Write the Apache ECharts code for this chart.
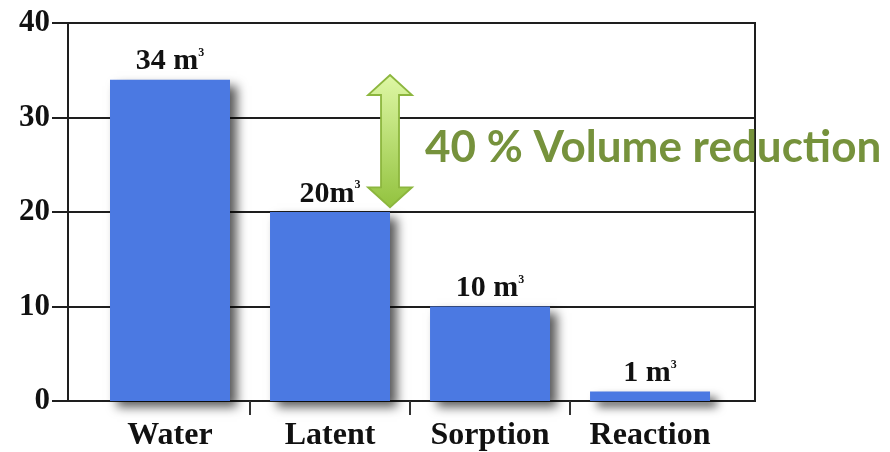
<!DOCTYPE html>
<html>
<head>
<meta charset="utf-8">
<script src="https://cdn.jsdelivr.net/npm/echarts@6/dist/echarts.min.js"></script>
<style>
  html, body { margin: 0; padding: 0; background: #fff; }
  #chart { width: 890px; height: 452px; }
</style>
</head>
<body>
<div id="chart"></div>
<script>
// data
var categories = ['Water', 'Latent', 'Sorption', 'Reaction']
var volumes = [34, 20, 10, 1]
var volumeLabels = ['34 m', '20m', '10 m', '1 m']
var yTicks = [0, 10, 20, 30, 40]
// arrow between Latent top and Water top
var arrowData = [[1, 34.5, 20.5]]
var arrowText = '40 % Volume reduction'

var serif = '"Liberation Serif", "Times New Roman", serif'
var lineColor = '#1e1e1e'

var myChart = echarts.init(document.getElementById('chart'))

function renderArrow (params, api) {
  var top = api.coord([api.value(0), api.value(1)])
  var bottom = api.coord([api.value(0), api.value(2)])
  // sit on the right edge of the bar
  var x = top[0] + api.size([1, 0])[0] * 0.375
  var y1 = top[1]
  var y2 = bottom[1]
  var hw = 22
  var sw = 9
  var hh = 20
  return {
    type: 'polygon',
    shape: {
      points: [
        [x, y1], [x + hw, y1 + hh], [x + sw, y1 + hh], [x + sw, y2 - hh],
        [x + hw, y2 - hh], [x, y2], [x - hw, y2 - hh], [x - sw, y2 - hh],
        [x - sw, y1 + hh], [x - hw, y1 + hh]
      ]
    },
    style: {
      fill: new echarts.graphic.LinearGradient(0, 0, 0, 1, [
        { offset: 0, color: '#dff8a6' },
        { offset: 1, color: '#92c23e' }
      ]),
      stroke: '#8cb63e',
      lineWidth: 1.8
    }
  }
}

var option = {
  animation: false,
  backgroundColor: '#fff',
  title: {
    text: arrowText,
    left: 420,
    top: 121,
    textStyle: {
      color: '#76923c',
      fontFamily: 'Lato, "Open Sans", sans-serif',
      fontWeight: 'bold',
      fontSize: 44
    }
  },
  grid: {
    left: 68,
    right: 135,
    top: 23,
    bottom: 50,
    show: true,
    borderColor: lineColor,
    borderWidth: 2
  },
  xAxis: {
    type: 'value',
    min: -0.6375,
    max: 3.656,
    splitLine: { show: false },
    axisLine: { show: true, onZero: false, lineStyle: { color: lineColor, width: 2 } },
    axisTick: {
      show: true,
      customValues: [0.5, 1.5, 2.5],
      length: 14,
      lineStyle: { color: '#333', width: 2 }
    },
    axisLabel: {
      customValues: [0, 1, 2, 3],
      formatter: function (v) { return categories[Math.round(v)] },
      margin: 19,
      color: '#111',
      fontFamily: serif,
      fontWeight: 'bold',
      fontSize: 32
    }
  },
  yAxis: {
    type: 'value',
    min: yTicks[0],
    max: yTicks[yTicks.length - 1],
    interval: 10,
    axisLine: { show: true, onZero: false, lineStyle: { color: lineColor, width: 2 } },
    axisTick: { show: true, length: 16, lineStyle: { color: lineColor, width: 2 } },
    splitLine: { lineStyle: { color: lineColor, width: 2 } },
    axisLabel: {
      margin: 18,
      color: '#111',
      fontFamily: serif,
      fontWeight: 'bold',
      fontSize: 31
    }
  },
  series: [
    {
      type: 'bar',
      barWidth: 120,
      data: volumes.map(function (v, i) { return [i, v] }),
      itemStyle: {
        color: '#4b79e2',
        shadowColor: 'rgba(0,0,0,0.65)',
        shadowBlur: 10,
        shadowOffsetX: 7,
        shadowOffsetY: 6
      },
      label: {
        show: true,
        position: 'top',
        distance: 3,
        formatter: function (p) {
          return '{v|' + volumeLabels[p.dataIndex] + '}{s|3}'
        },
        rich: {
          v: { fontFamily: serif, fontWeight: 'bold', fontSize: 30, color: '#111' },
          s: { fontFamily: serif, fontWeight: 'bold', fontSize: 12, color: '#111', verticalAlign: 'top' }
        }
      }
    },
    {
      type: 'custom',
      renderItem: renderArrow,
      data: arrowData,
      z: 5
    }
  ]
}

myChart.setOption(option)
window.onresize = function () {
  myChart.resize()
}
</script>
</body>
</html>
